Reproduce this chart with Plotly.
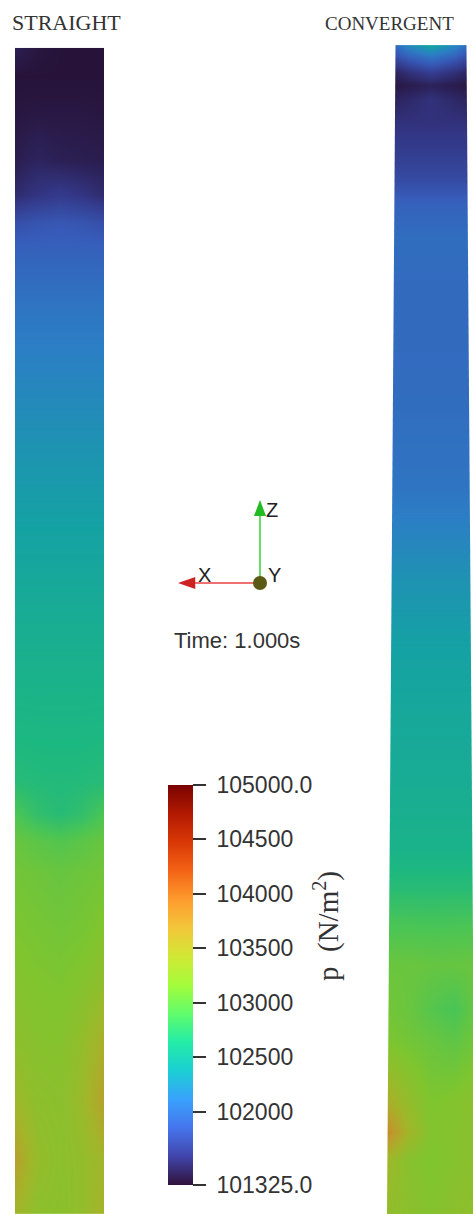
import plotly.graph_objects as go
import plotly.colors as pc

W, H = 473, 1214
PX_PER_MM = 4.55

# colour range of the pressure field (N/m^2)
P_MIN, P_MAX = 101325.0, 105000.0
TICK_VALUES = [101325.0, 102000, 102500, 103000, 103500, 104000, 104500, 105000.0]
TICK_LABELS = ["101325.0", "102000", "102500", "103000", "103500", "104000", "104500", "105000.0"]

# ---- straight pipe: pressure sampled across the radius (mm) and along the height (mm)
STRAIGHT_RADIUS = 9.8
STRAIGHT_LENGTH = 256.3
STRAIGHT_R = [-9.8, -4.9, 0.0, 4.9, 9.8]
STRAIGHT_Z = [0, 12, 25, 38, 50, 62, 75, 82, 88, 95, 105, 120, 135, 152, 170,
              190, 200, 212, 218, 224, 232, 242, 250, 256.3]
STRAIGHT_P = [
    [103420, 103260, 103240, 103300, 103460],
    [103620, 103320, 103250, 103300, 103420],
    [103380, 103260, 103240, 103360, 103620],
    [103260, 103210, 103200, 103300, 103480],
    [103200, 103170, 103150, 103200, 103300],
    [103150, 103120, 103100, 103120, 103180],
    [103100, 103070, 103040, 103070, 103100],
    [103040, 102980, 102930, 102980, 103040],
    [102900, 102760, 102700, 102760, 102900],
    [102700, 102680, 102670, 102680, 102700],
    [102640, 102630, 102630, 102630, 102640],
    [102560, 102560, 102560, 102560, 102560],
    [102480, 102480, 102480, 102480, 102480],
    [102380, 102380, 102380, 102380, 102380],
    [102260, 102260, 102260, 102260, 102260],
    [102120, 102120, 102120, 102120, 102120],
    [102040, 102040, 102040, 102040, 102040],
    [101900, 101900, 101900, 101900, 101900],
    [101760, 101800, 101820, 101800, 101760],
    [101520, 101580, 101620, 101580, 101520],
    [101420, 101470, 101440, 101430, 101420],
    [101380, 101390, 101390, 101390, 101380],
    [101360, 101360, 101360, 101360, 101360],
    [101440, 101380, 101360, 101360, 101360],
]

# ---- convergent pipe: wall radius at bottom / top, and pressure samples
CONV_LENGTH = 256.9
CONV_WALL_Z = [0.0, 256.9]
CONV_WALL_R = [9.67, 7.8]
CONV_R = [-10.0, -5.0, 0.0, 5.0, 10.0]
CONV_Z = [0, 12, 18, 25, 38, 45, 55, 65, 72, 80, 95, 110, 125, 140, 150, 160,
          180, 200, 215, 222, 228, 235, 240, 245, 248, 251, 253.5, 256.9]
CONV_P = [
    [103300, 103250, 103200, 103250, 103280],
    [103400, 103220, 103150, 103200, 103260],
    [103820, 103420, 103180, 103200, 103250],
    [103500, 103300, 103150, 103180, 103250],
    [103150, 103100, 103050, 103000, 103100],
    [103100, 103050, 102950, 102880, 103050],
    [103050, 103050, 103030, 103030, 103050],
    [102860, 102860, 102850, 102860, 102860],
    [102700, 102700, 102700, 102700, 102700],
    [102580, 102580, 102580, 102580, 102580],
    [102500, 102500, 102500, 102500, 102500],
    [102450, 102450, 102450, 102450, 102450],
    [102380, 102380, 102380, 102380, 102380],
    [102260, 102260, 102260, 102260, 102260],
    [102150, 102150, 102150, 102150, 102150],
    [102040, 102040, 102040, 102040, 102040],
    [101980, 101980, 101980, 101980, 101980],
    [101960, 101960, 101960, 101960, 101960],
    [101990, 101990, 101990, 101990, 101990],
    [101900, 101900, 101900, 101900, 101900],
    [101720, 101720, 101720, 101720, 101720],
    [101620, 101620, 101620, 101620, 101620],
    [101560, 101560, 101560, 101560, 101560],
    [101450, 101500, 101560, 101500, 101450],
    [101370, 101420, 101460, 101420, 101370],
    [101420, 101550, 101650, 101550, 101420],
    [101600, 101800, 101950, 101800, 101600],
    [101800, 102200, 102420, 102200, 101800],
]

TEXT = "#333333"
SANS = "Liberation Sans, Arial, sans-serif"
SERIF = "Liberation Serif, Times New Roman, serif"

# the surfaces are lit, so they read darker than the legend bar
SHADE = 0.78
turbo = pc.sequential.Turbo
surface_scale = []
for i, c in enumerate(turbo):
    r, g, b = pc.hex_to_rgb(c)
    surface_scale.append([i / (len(turbo) - 1),
                          f"rgb({r * SHADE:.0f},{g * SHADE:.0f},{b * SHADE:.0f})"])

fig = go.Figure()

fig.add_trace(go.Heatmap(
    x=STRAIGHT_R, y=STRAIGHT_Z, z=STRAIGHT_P,
    zmin=P_MIN, zmax=P_MAX, colorscale=surface_scale, zsmooth="best",
    showscale=False, hoverinfo="skip", xaxis="x", yaxis="y"))

fig.add_trace(go.Heatmap(
    x=CONV_R, y=CONV_Z, z=CONV_P,
    zmin=P_MIN, zmax=P_MAX, colorscale=surface_scale, zsmooth="best",
    showscale=False, hoverinfo="skip", xaxis="x2", yaxis="y2"))

# blank out the area outside the tapered walls
outer = 20.0
for side in (-1, 1):
    xs = [side * CONV_WALL_R[0], side * CONV_WALL_R[1], side * outer, side * outer]
    ys = [CONV_WALL_Z[0], CONV_WALL_Z[1], CONV_WALL_Z[1], CONV_WALL_Z[0]]
    fig.add_trace(go.Scatter(
        x=xs, y=ys, fill="toself", fillcolor="white", mode="lines",
        line=dict(width=0, color="white"), hoverinfo="skip", showlegend=False,
        xaxis="x2", yaxis="y2"))

# legend bar for the pressure field
NB = "\u00a0"
fig.add_trace(go.Scatter(
    x=[None], y=[None], mode="markers", hoverinfo="skip", showlegend=False,
    marker=dict(
        color=[P_MIN, P_MAX], cmin=P_MIN, cmax=P_MAX, colorscale="Turbo",
        showscale=True,
        colorbar=dict(
            x=168 / W, xanchor="left", y=1 - 985 / H, yanchor="middle",
            len=400, lenmode="pixels", thickness=25, thicknessmode="pixels",
            xpad=0, ypad=0, outlinewidth=0,
            tickmode="array", tickvals=TICK_VALUES,
            ticktext=[NB + t for t in TICK_LABELS],
            ticks="outside", ticklen=13, tickwidth=2, tickcolor=TEXT,
            tickfont=dict(family=SANS, size=23, color=TEXT),
        ),
    ),
    xaxis="x", yaxis="y"))

hidden = dict(visible=False, showgrid=False, zeroline=False, fixedrange=True)
c2 = 431
fig.update_layout(
    width=W, height=H,
    margin=dict(l=0, r=0, t=0, b=0),
    paper_bgcolor="white", plot_bgcolor="white",
    xaxis=dict(domain=[15 / W, 104 / W], range=[-STRAIGHT_RADIUS, STRAIGHT_RADIUS], **hidden),
    yaxis=dict(domain=[0, STRAIGHT_LENGTH * PX_PER_MM / H], range=[0, STRAIGHT_LENGTH], **hidden),
    xaxis2=dict(domain=[383 / W, 1.0],
                range=[-(c2 - 383) / PX_PER_MM, (W - c2) / PX_PER_MM], **hidden),
    yaxis2=dict(domain=[0, CONV_LENGTH * PX_PER_MM / H], range=[0, CONV_LENGTH], **hidden),
    showlegend=False,
)


def px(x, y):
    return x / W, 1 - y / H


annotations = []
# panel titles
tx, ty = px(10, 22)
annotations.append(dict(text="STRAIGHT", x=tx, y=ty, xanchor="left", yanchor="middle",
                        font=dict(family=SERIF, size=22, color=TEXT)))
tx, ty = px(456, 23)
annotations.append(dict(text="CONVERGENT", x=tx, y=ty, xanchor="right", yanchor="middle",
                        font=dict(family=SERIF, size=19, color=TEXT)))
# pressure legend title
tx, ty = px(327, 926)
annotations.append(dict(text="p  (N/m<sup>2</sup>)", x=tx, y=ty, textangle=-90,
                        xanchor="center", yanchor="middle",
                        font=dict(family=SERIF, size=29, color=TEXT)))
# time stamp
tx, ty = px(172, 640)
annotations.append(dict(text="Time: 1.000s", x=tx, y=ty, xanchor="left", yanchor="middle",
                        font=dict(family=SANS, size=22, color=TEXT)))
# orientation triad labels
for label, (lx, ly) in (("Z", (272, 510)), ("X", (204, 575)), ("Y", (274, 575))):
    tx, ty = px(lx, ly)
    annotations.append(dict(text=label, x=tx, y=ty, xanchor="center", yanchor="middle",
                            font=dict(family=SANS, size=20, color="#222222")))

for a in annotations:
    a["showarrow"] = False
    a["xref"] = "paper"
    a["yref"] = "paper"
fig.update_layout(annotations=annotations)

# orientation triad: shaft lines, arrow heads and the Y-axis dot
ox, oy = 260, 583
triad = [
    # (shaft end, head tip, head base half-width direction, shaft colour, head colour)
    ((260, 514), (260, 500), (1, 0), "#66dd66", "#22bb22"),
    ((193, 583), (178, 583), (0, 1), "#ee7070", "#cc2222"),
]
for (sx, sy), (hx, hy), (nx, ny), shaft_col, head_col in triad:
    x0, y0 = px(ox, oy)
    x1, y1 = px(sx, sy)
    fig.add_shape(type="line", xref="paper", yref="paper", x0=x0, y0=y0, x1=x1, y1=y1,
                  line=dict(color=shaft_col, width=2))
    bx, by = sx + (sx - hx) * 0.15, sy + (sy - hy) * 0.15
    pts = [px(hx, hy), px(bx + 6 * nx, by + 6 * ny), px(bx - 6 * nx, by - 6 * ny)]
    path = "M {} {} L {} {} L {} {} Z".format(*[v for p in pts for v in p])
    fig.add_shape(type="path", xref="paper", yref="paper", path=path,
                  fillcolor=head_col, line=dict(width=0))

cx, cy = px(ox, oy)
fig.add_shape(type="circle", xref="paper", yref="paper",
              xsizemode="pixel", ysizemode="pixel", xanchor=cx, yanchor=cy,
              x0=-7, x1=7, y0=-7, y1=7,
              fillcolor="#5b5a14", line=dict(width=0))

fig.write_html("out.html")
